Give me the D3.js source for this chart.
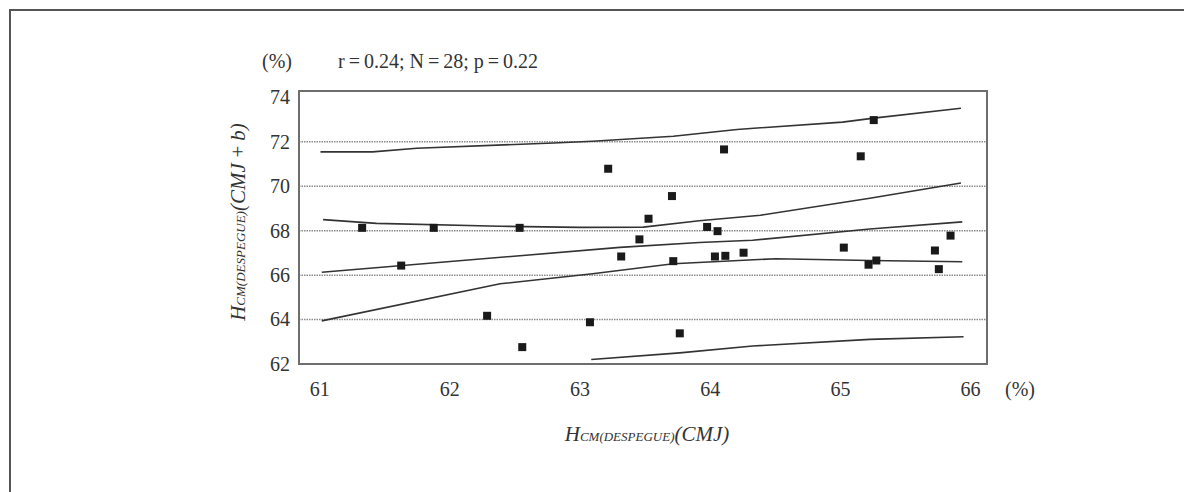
<!DOCTYPE html>
<html>
<head>
<meta charset="utf-8">
<script src="https://cdn.jsdelivr.net/npm/d3@7"></script>
<style>
  body { margin: 0; background: #fff; }
  svg text { font-family: "Liberation Serif", "Times New Roman", serif; fill: #333; }
</style>
</head>
<body>
<div class="scatter__container"></div>
<script>
// data
const xTicks = [61, 62, 63, 64, 65, 66];
const yTicks = [62, 64, 66, 68, 70, 72, 74];
const gridTicks = [64, 66, 68, 70, 72];

const pointX = [61.33, 61.88, 62.54, 61.63, 63.22, 63.71, 63.53, 63.46, 63.32, 63.72,
                62.29, 63.08, 62.56, 63.77, 65.26, 64.11, 65.16, 63.98, 64.06, 64.04,
                64.12, 64.26, 65.03, 65.22, 65.28, 65.73, 65.76, 65.85];
const pointY = [68.13, 68.13, 68.13, 66.43, 70.79, 69.56, 68.54, 67.61, 66.84, 66.63,
                64.17, 63.88, 62.76, 63.38, 72.98, 71.66, 71.35, 68.17, 67.98, 66.84,
                66.87, 67.01, 67.24, 66.47, 66.66, 67.11, 66.27, 67.78];

// curves: [x, y]
const upperPrediction = [[61.01, 71.55], [61.41, 71.55], [61.75, 71.71], [62.80, 71.95], [63.10, 72.03],
                         [63.72, 72.25], [64.21, 72.56], [65.02, 72.89], [65.26, 73.07], [65.93, 73.51]];
const upperConfidence = [[61.03, 68.50], [61.44, 68.33], [62.39, 68.20], [63.00, 68.15], [63.49, 68.16],
                         [63.92, 68.45], [64.39, 68.70], [65.23, 69.46], [65.93, 70.15]];
const fitLine = [[61.02, 66.13], [63.31, 67.25], [63.92, 67.47], [64.33, 67.57], [65.23, 68.08], [65.94, 68.40]];
const lowerConfidence = [[61.02, 63.94], [62.39, 65.61], [63.10, 66.06], [63.72, 66.51], [64.51, 66.74],
                         [65.23, 66.66], [65.94, 66.60]];
const lowerPrediction = [[63.09, 62.20], [63.77, 62.50], [64.33, 62.81], [65.23, 63.11], [65.95, 63.23]];

const curves = [upperPrediction, upperConfidence, fitLine, lowerConfidence, lowerPrediction];

// chart
const width = 1184;
const height = 492;
const frame = { left: 299, right: 987, top: 91, bottom: 364 };
const serif = '"Liberation Serif", "Times New Roman", serif';

const xScale = d3.scaleLinear().domain([60.845, 66.13]).range([frame.left, frame.right]);
const yScale = d3.scaleLinear().domain([62, 74.29]).range([frame.bottom, frame.top]);

const svg = d3.select('.scatter__container')
  .append('svg')
  .attr('width', width)
  .attr('height', height);

// outer figure border (top and left only)
svg.append('path')
  .attr('d', `M10,${height} L10,10 L${width},10`)
  .style('fill', 'none')
  .style('stroke', '#555')
  .style('stroke-width', 2);

// header
svg.append('text')
  .attr('x', 262).attr('y', 68)
  .style('font-size', '20px')
  .text('(%)');
svg.append('text')
  .attr('x', 338).attr('y', 68)
  .style('font-size', '20px')
  .text('r\u2009=\u20090.24; N\u2009=\u200928; p\u2009=\u20090.22');

// grid lines
svg.append('g')
  .selectAll('line')
  .data(gridTicks)
  .enter()
  .append('line')
  .attr('x1', frame.left).attr('x2', frame.right)
  .attr('y1', d => yScale(d)).attr('y2', d => yScale(d))
  .style('stroke', '#8a8a8a')
  .style('stroke-width', 1.5)
  .style('stroke-dasharray', '1.5,1');

// frame
svg.append('rect')
  .attr('x', frame.left).attr('y', frame.top)
  .attr('width', frame.right - frame.left)
  .attr('height', frame.bottom - frame.top)
  .style('fill', 'none')
  .style('stroke', '#6e6e6e')
  .style('stroke-width', 2);

// axes (labels only)
const xAxis = d3.axisBottom(xScale)
  .tickValues(xTicks)
  .tickFormat(d3.format('d'))
  .tickSize(0)
  .tickPadding(0);
const xAxisDraw = svg.append('g')
  .attr('class', 'x-axis')
  .attr('transform', `translate(0,${frame.bottom + 18})`)
  .call(xAxis);
xAxisDraw.select('.domain').remove();
xAxisDraw.selectAll('text')
  .style('font-family', serif)
  .style('font-size', '20px')
  .style('fill', '#333');

const yAxis = d3.axisLeft(yScale)
  .tickValues(yTicks)
  .tickFormat(d3.format('d'))
  .tickSize(0)
  .tickPadding(0);
const yAxisDraw = svg.append('g')
  .attr('class', 'y-axis')
  .attr('transform', `translate(${frame.left - 9},0)`)
  .call(yAxis);
yAxisDraw.select('.domain').remove();
yAxisDraw.selectAll('text')
  .style('font-family', serif)
  .style('font-size', '20px')
  .style('fill', '#333');

// unit next to x axis
svg.append('text')
  .attr('x', 1005).attr('y', 396)
  .style('font-size', '20px')
  .text('(%)');

// curves
const lineGenerator = d3.line()
  .x(d => xScale(d[0]))
  .y(d => yScale(d[1]));

svg.append('g')
  .selectAll('path')
  .data(curves)
  .enter()
  .append('path')
  .attr('d', d => lineGenerator(d))
  .style('fill', 'none')
  .style('stroke', '#333')
  .style('stroke-width', 1.6);

// points
const markerSize = 8;
svg.append('g')
  .selectAll('rect')
  .data(pointX.map((x, i) => ({ x: x, y: pointY[i] })))
  .enter()
  .append('rect')
  .attr('x', d => xScale(d.x) - markerSize / 2)
  .attr('y', d => yScale(d.y) - markerSize / 2)
  .attr('width', markerSize)
  .attr('height', markerSize)
  .style('fill', '#1a1a1a');

// axis titles
const xTitle = svg.append('text')
  .attr('x', 647).attr('y', 441)
  .style('text-anchor', 'middle')
  .style('font-style', 'italic');
xTitle.append('tspan').style('font-size', '21px').text('H');
xTitle.append('tspan').style('font-size', '13px').text('CM(DESPEGUE)');
xTitle.append('tspan').style('font-size', '21px').text('(CMJ)');

const yTitle = svg.append('text')
  .attr('transform', 'translate(245,222) rotate(-90)')
  .style('text-anchor', 'middle')
  .style('font-style', 'italic');
yTitle.append('tspan').style('font-size', '21px').text('H');
yTitle.append('tspan').style('font-size', '13px').text('CM(DESPEGUE)');
yTitle.append('tspan').style('font-size', '21px').text('(CMJ\u2009+\u2009b)');
</script>
</body>
</html>
